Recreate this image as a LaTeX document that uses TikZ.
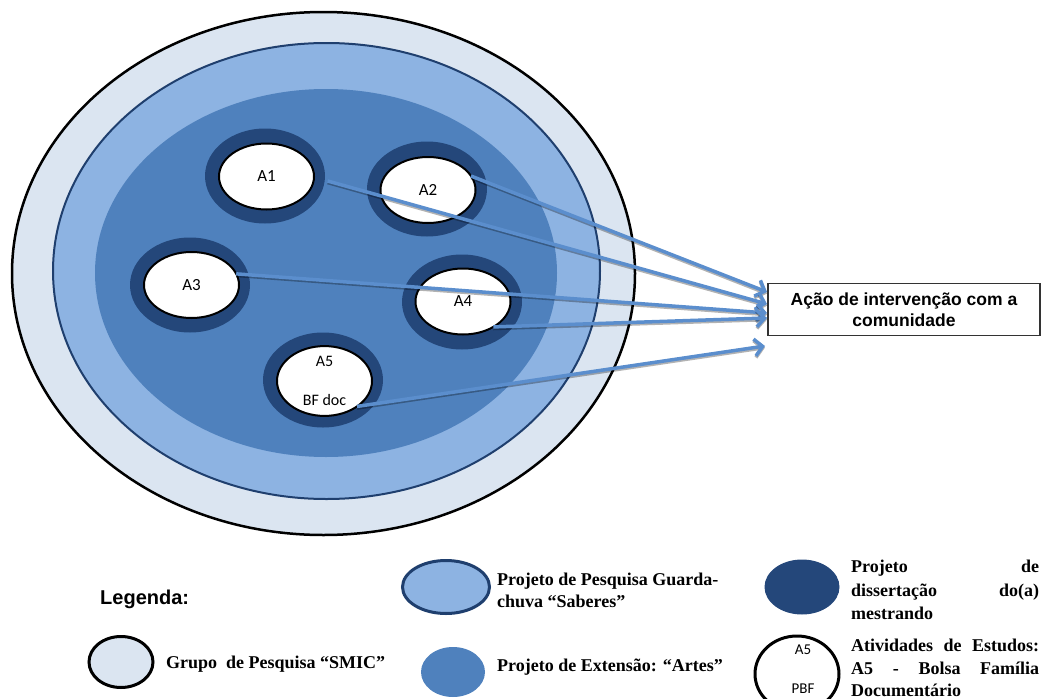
\documentclass[tikz,border=0pt]{standalone}
\usepackage{fontspec}
\setmainfont{Liberation Serif}
\newfontfamily\arialf{Liberation Sans}
\newfontfamily\calf{Carlito}
\usetikzlibrary{shapes.geometric,arrows.meta}
\definecolor{outerc}{HTML}{DBE5F1}
\definecolor{midc}{HTML}{8DB3E2}
\definecolor{innerc}{HTML}{4F81BD}
\definecolor{ringc}{HTML}{24477A}
\definecolor{navyline}{HTML}{1F3F6E}
\definecolor{arrowc}{HTML}{5B8ECD}
\begin{document}
\begin{tikzpicture}[x=1pt,y=-1pt,
  ell/.style={ellipse, inner sep=0pt, outer sep=0pt},
  ringnode/.style={ell, fill=ringc, minimum width=120pt, minimum height=95pt},
  actnode/.style={ell, fill=white, draw=black, line width=2pt, minimum width=95pt, minimum height=66pt, font=\calf\fontsize{17}{20}\selectfont},
  conn/.style={draw=arrowc, line width=3.5pt, -{Straight Barb[length=8pt,width=17pt]},
    preaction={draw=black, draw opacity=0.3, line width=3.5pt, transform canvas={yshift=-1.6pt}}},
  legtxt/.style={font=\bfseries\fontsize{18}{23}\selectfont, inner sep=0pt, anchor=base west},
  smalllab/.style={font=\calf\fontsize{15}{18}\selectfont, inner sep=0pt},
  ]
\useasboundingbox (0,0) rectangle (1042,699);
% nested ellipses
\node[ell, draw=black, line width=2.5pt, fill=outerc, minimum width=623pt, minimum height=523pt] (grp) at (323.5,273.5) {};
\node[ell, draw=navyline, line width=2pt, fill=midc, minimum width=547pt, minimum height=456pt] (sab) at (326.5,271) {};
\node[ell, fill=innerc, minimum width=462pt, minimum height=368pt] (art) at (326,273) {};
% activities
\node[ringnode] (r1) at (265,176) {};
\node[actnode] (a1) at (266.5,176.5) {A1};
\node[ringnode] (r2) at (427,189) {};
\node[actnode] (a2) at (428,190) {A2};
\node[ringnode] (r3) at (190,285) {};
\node[actnode] (a3) at (191.5,285) {A3};
\node[ringnode] (r4) at (462,302) {};
\node[actnode] (a4) at (463,301.5) {A4};
\node[ringnode] (r5) at (323,380) {};
\node[actnode, minimum height=68pt, align=center, font=\calf\fontsize{16}{39}\selectfont] (a5) at (324.5,381) {A5\\BF doc};
% target box
\node[draw=black!80, line width=1.2pt, minimum width=272pt, minimum height=52pt, inner sep=0pt, align=center, font=\arialf\bfseries\fontsize{17.5}{21}\selectfont] (acao) at (904,309.5) {Ação de intervenção com a\\comunidade};
% arrow tips
\coordinate (t1) at (767,292);
\coordinate (t2) at (767,304);
\coordinate (t3) at (767,313);
\coordinate (t4) at (767,318);
\coordinate (t5) at (765,346);
\draw[conn] (a2.18) -- (t1);
\draw[conn, shorten <=3pt] (r1.-4) -- (t2);
\draw[conn] (a3.14) -- (t3);
\draw[conn] (a4.-40) -- (t4);
\draw[conn] (a5.-38) -- (t5);
% legend
\node[font=\arialf\bfseries\fontsize{20}{24}\selectfont, inner sep=0pt, anchor=base west] (leg) at (100,604) {Legenda:};
\node[ell, draw=black, line width=3pt, fill=outerc, minimum width=64pt, minimum height=51pt] (k1) at (121,662) {};
\node[legtxt] (k1t) at (166,668) {Grupo\hspace{0.5em}de Pesquisa “SMIC”};
\node[ell, draw=navyline, line width=3pt, fill=midc, minimum width=87pt, minimum height=53pt] (k2) at (446,587) {};
\node[legtxt] (k2a) at (497,585) {Projeto de Pesquisa Guarda-};
\node[legtxt] (k2b) at (497,607) {chuva “Saberes”};
\node[ell, fill=innerc, minimum width=64pt, minimum height=50pt] (k3) at (453,672) {};
\node[legtxt] (k3t) at (497,671) {Projeto de Extensão: “Artes”};
\node[ell, fill=ringc, minimum width=75pt, minimum height=55pt] (k4) at (802,587) {};
\node[legtxt] (k4a) at (851,572) {\makebox[188pt][s]{Projeto\hfill de}};
\node[legtxt] (k4b) at (851,596) {\makebox[188pt][s]{dissertação\hfill do(a)}};
\node[legtxt] (k4c) at (851,619) {mestrando};
\node[ell, draw=black, line width=3pt, fill=white, minimum width=84pt, minimum height=76pt] (k5) at (797,674) {};
\node[smalllab] (k5a) at (803,650) {A5};
\node[smalllab] (k5b) at (803,689) {PBF};
\node[legtxt] (k5c) at (851,651) {\makebox[188pt][s]{Atividades de Estudos:}};
\node[legtxt] (k5d) at (851,674) {\makebox[188pt][s]{A5 - Bolsa Família}};
\node[legtxt] (k5e) at (851,696) {Documentário};
\end{tikzpicture}
\end{document}
